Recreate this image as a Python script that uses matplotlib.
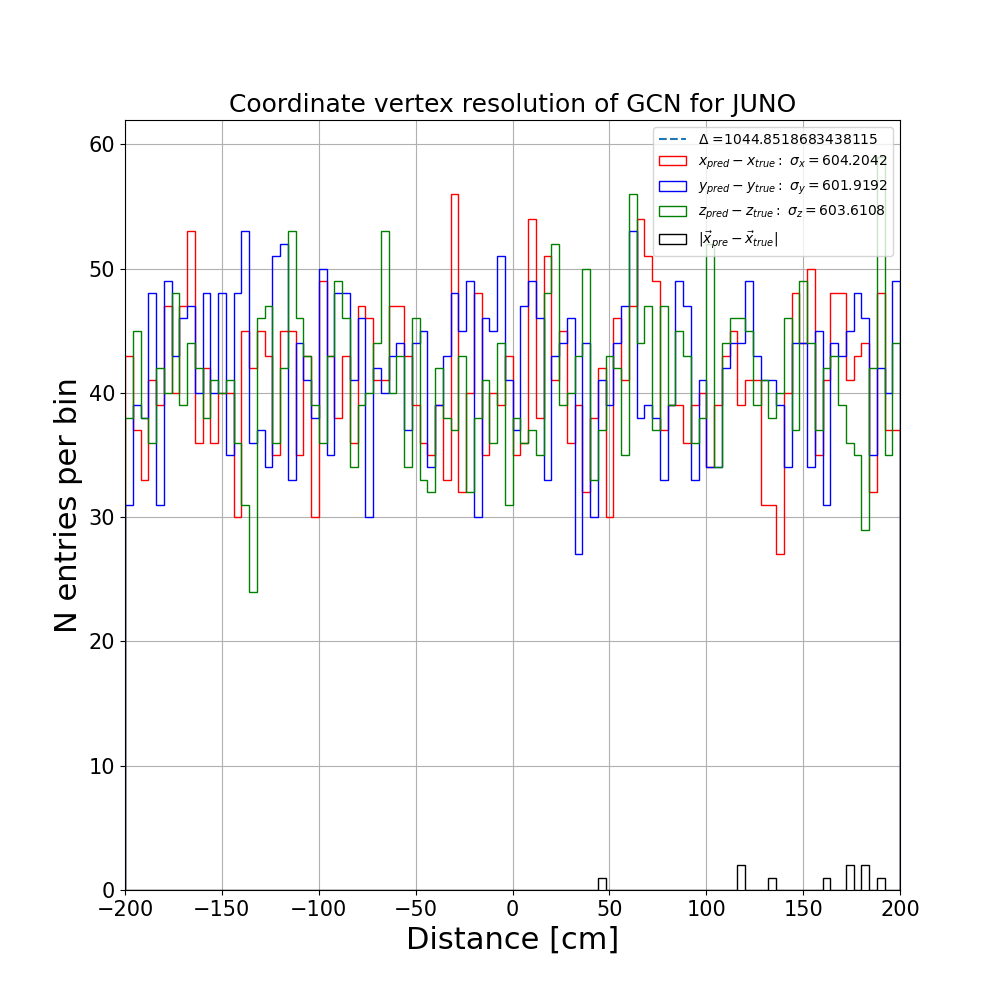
import numpy as np
import matplotlib
matplotlib.use("Agg")
import matplotlib.pyplot as plt

# 100 bins of 4 cm between -200 and 200
bin_edges = np.linspace(-200, 200, 101)
bin_centers = 0.5 * (bin_edges[:-1] + bin_edges[1:])

x_counts = [
    43, 37, 33, 41, 39, 47, 40, 47, 53, 36, 42, 36, 40, 40, 30, 45, 42,
    45, 43, 35, 45, 45, 35, 43, 30, 49, 43, 38, 43, 36, 47, 46, 41, 41,
    47, 47, 43, 39, 36, 35, 39, 33, 56, 32, 40, 48, 35, 40, 39, 43,
    35, 36, 54, 38, 51, 41, 45, 36, 39, 32, 38, 42, 30, 46, 41, 47, 54,
    51, 49, 37, 39, 39, 36, 39, 40, 34, 39, 43, 45, 39, 41, 41, 31, 31, 27, 40,
    48, 44, 50, 35, 41, 48, 48, 41, 43, 44, 32, 48, 37, 37,
]
y_counts = [
    31, 39, 38, 48, 31, 49, 43, 46, 47, 40, 48, 40, 48, 35, 48, 53, 36,
    37, 34, 51, 52, 33, 44, 41, 38, 50, 35, 48, 48, 41, 46, 30, 42,
    40, 43, 44, 37, 44, 45, 34, 39, 43, 48, 45, 49, 30, 46, 45, 51, 41,
    37, 47, 49, 46, 33, 43, 44, 46, 27, 44, 30, 41, 39, 44, 47, 53, 38,
    39, 38, 33, 39, 49, 47, 33, 41, 34, 34, 42, 44, 44, 49, 43, 41, 41, 39, 34,
    44, 44, 34, 45, 31, 44, 43, 45, 48, 46, 35, 42, 40, 49,
]
z_counts = [
    38, 45, 38, 36, 42, 40, 48, 39, 44, 42, 38, 41, 40, 41, 36, 31, 24,
    46, 47, 36, 42, 53, 46, 43, 39, 36, 43, 49, 46, 34, 39, 40, 44,
    53, 40, 43, 34, 46, 33, 32, 42, 38, 37, 43, 32, 38, 41, 36, 44, 31,
    38, 36, 37, 35, 48, 52, 39, 40, 43, 50, 33, 37, 43, 42, 35, 56, 44,
    47, 37, 47, 39, 45, 43, 36, 38, 52, 34, 44, 46, 46, 45, 39, 41, 38, 40, 46,
    37, 49, 44, 37, 42, 43, 39, 36, 35, 29, 42, 59, 35, 44,
]
# |x_pre - x_true| only has a few entries inside the window
r_nonzero = {61: 1, 79: 2, 83: 1, 90: 1, 93: 2, 95: 2, 97: 1}
r_counts = [r_nonzero.get(i, 0) for i in range(100)]

delta = 1044.8518683438115
sigma_x = 604.2042
sigma_y = 601.9192
sigma_z = 603.6108

fig, ax = plt.subplots(figsize=(10, 10), dpi=100)

ax.axvline(delta, color="tab:blue", linestyle="--",
           label=r"$\Delta$ =" + str(delta))
ax.hist(bin_centers, bins=bin_edges, weights=x_counts, histtype="step",
        color="red", linewidth=1.0,
        label=r"$x_{pred} - x_{true}:\ \sigma_x = %.4f$" % sigma_x)
ax.hist(bin_centers, bins=bin_edges, weights=y_counts, histtype="step",
        color="blue", linewidth=1.0,
        label=r"$y_{pred} - y_{true}:\ \sigma_y = %.4f$" % sigma_y)
ax.hist(bin_centers, bins=bin_edges, weights=z_counts, histtype="step",
        color="green", linewidth=1.0,
        label=r"$z_{pred} - z_{true}:\ \sigma_z = %.4f$" % sigma_z)
ax.hist(bin_centers, bins=bin_edges, weights=r_counts, histtype="step",
        color="black", linewidth=1.0,
        label=r"$|\vec{x}_{pre} - \vec{x}_{true}|$")

ax.set_xlim(-200, 200)
ax.set_ylim(0, max(max(x_counts), max(y_counts), max(z_counts)) * 1.05)
ax.grid(True)
ax.set_title("Coordinate vertex resolution of GCN for JUNO", fontsize=18)
ax.set_xlabel("Distance [cm]", fontsize=22)
ax.set_ylabel("N entries per bin", fontsize=22)
ax.tick_params(axis="both", labelsize=15)
ax.legend(loc="upper right", fontsize=10)

fig.savefig("out.png")
